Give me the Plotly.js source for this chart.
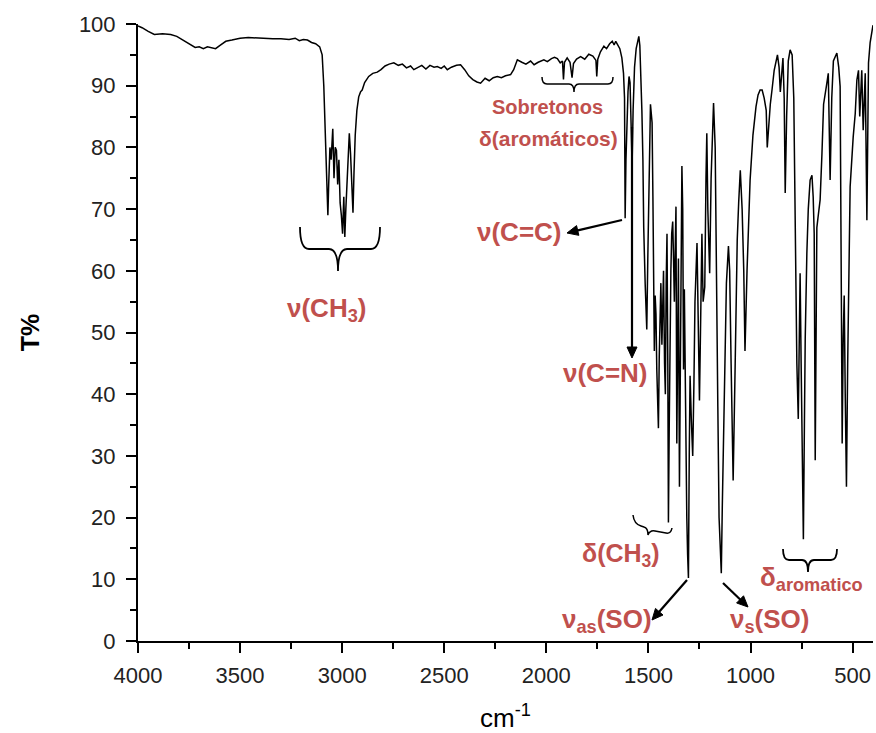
<!DOCTYPE html>
<html>
<head>
<meta charset="utf-8">
<script src="https://cdn.plot.ly/plotly-3.0.1.min.js"></script>
<style>
  html, body { margin: 0; padding: 0; background: #ffffff; }
  #chart { width: 876px; height: 733px; }
</style>
</head>
<body>
<div id="chart"></div>
<script>
// ---- Data ----
const wavenumber = [
  4000, 3980, 3950, 3920, 3880, 3840, 3810, 3780, 3750, 3720,
  3700, 3680, 3660, 3640, 3620, 3600, 3570, 3540, 3500, 3460,
  3420, 3380, 3340, 3300, 3260, 3230, 3210, 3190, 3170, 3150,
  3130, 3110,
  3098, 3090, 3082, 3076, 3070, 3066, 3060, 3054, 3046, 3040,
  3034, 3028, 3022, 3016, 3010, 3004, 2998, 2992, 2987, 2982,
  2976, 2971, 2965, 2959, 2953, 2947, 2942, 2936, 2928, 2919,
  2910, 2902, 2890, 2870, 2850,
  2828, 2810, 2790, 2770, 2747, 2725, 2705, 2685, 2665, 2649,
  2630, 2610, 2590, 2570, 2550, 2534, 2515, 2500, 2485, 2465,
  2440, 2420, 2400, 2380, 2360, 2340, 2322, 2300, 2280, 2260,
  2240, 2220, 2200, 2175, 2160, 2142, 2120, 2100, 2077, 2060,
  2040, 2012, 1995, 1975, 1960, 1946, 1932, 1921, 1916, 1911,
  1898, 1884, 1874, 1867, 1852, 1832, 1812, 1792, 1772, 1757,
  1753, 1748, 1735, 1718, 1705, 1690, 1677, 1668, 1660, 1650,
  1640,
  1630, 1622, 1617, 1614, 1610, 1605, 1600, 1595, 1590, 1585,
  1580, 1575, 1568, 1560, 1552, 1547, 1542, 1537, 1532, 1527,
  1523, 1516, 1508, 1503, 1498, 1494, 1490, 1486, 1482, 1478,
  1475, 1471, 1467, 1463, 1459, 1455, 1451, 1447, 1443, 1439,
  1434, 1430, 1426, 1421, 1417, 1413, 1409, 1405, 1402, 1398,
  1394, 1390, 1386, 1381, 1377, 1373, 1369, 1365, 1361, 1357,
  1353, 1348, 1344, 1340, 1336, 1332, 1328, 1324, 1320, 1316,
  1312, 1308, 1304,
  1300, 1296, 1290, 1283, 1277, 1272, 1262, 1257, 1250, 1245,
  1238, 1232, 1224, 1218, 1214, 1209, 1200, 1193, 1181, 1173,
  1166, 1160, 1154, 1148, 1143, 1138, 1133, 1126, 1118, 1108,
  1102, 1095, 1085, 1075, 1065, 1058, 1050, 1041, 1033, 1027,
  1017, 1002, 988, 973, 963, 953, 943, 933, 923, 918,
  911, 903, 894, 884, 868, 860, 854, 847, 841, 835,
  830, 823, 815, 806, 796, 788, 781, 773, 766, 761,
  757, 752, 747, 741, 736, 732, 724, 717, 708, 699,
  693, 688, 683, 678, 675, 668, 659, 650, 642, 626,
  619, 610, 602, 594, 577, 568, 561, 555, 551, 546,
  541, 536, 530, 524, 519, 512, 497, 487, 479, 471,
  465, 460, 455, 448, 438, 430, 422, 414, 404, 400
];
const transmittance = [
  99.7, 99.4, 98.8, 98.3, 98.4, 98.3, 98.0, 97.4, 96.8, 96.2,
  96.3, 96.0, 96.3, 96.1, 96.0, 96.5, 97.2, 97.4, 97.7, 97.8,
  97.7, 97.6, 97.6, 97.6, 97.5, 97.7, 97.3, 97.5, 97.4, 97.0,
  96.8, 96.3,
  95.0, 90.0, 80.0, 72.0, 69.0, 74.0, 80.0, 78.0, 83.0, 75.0,
  80.0, 79.5, 74.0, 78.0, 71.0, 69.0, 66.0, 72.0, 65.5, 70.0,
  74.0, 79.0, 82.3, 79.0, 73.0, 69.4, 76.0, 82.0, 86.0, 88.2,
  89.0, 89.3, 90.5, 91.5, 92.0,
  92.2, 92.6, 93.2, 93.5, 93.7, 93.3, 93.5, 92.9, 93.2, 92.6,
  92.9, 93.3, 92.7, 93.3, 93.0, 93.1, 92.8, 93.2, 92.6, 93.0,
  93.3, 93.4, 92.6, 91.6, 91.0, 90.6, 90.4, 91.2, 90.8, 91.3,
  91.5, 91.3, 91.6, 91.8, 92.6, 94.2, 93.8, 93.5, 94.0, 93.4,
  93.8, 94.2, 93.9, 94.4, 94.6, 94.4, 93.7, 94.0, 91.0, 93.8,
  94.5, 93.8, 91.3, 93.6, 94.3, 94.7, 94.3, 95.1, 94.8, 94.1,
  91.5, 94.3, 95.5, 96.4, 96.0, 96.8, 97.2, 96.6, 97.2, 96.6,
  96.0,
  94.5, 92.0, 88.0, 68.5, 78.0, 86.0, 89.0, 91.5, 90.5, 84.0,
  77.0, 86.0, 93.0, 96.0, 97.6, 98.0, 96.5, 92.0, 86.0, 78.0,
  67.0, 58.0, 50.5, 62.0, 75.0, 84.0, 87.0, 85.5, 84.0, 72.0,
  60.0, 47.0, 56.0, 53.0, 44.0, 38.0, 34.5, 46.0, 55.0, 58.0,
  48.0, 55.0, 60.0, 45.0, 40.0, 58.0, 66.0, 45.0, 19.2, 35.0,
  50.0, 60.0, 66.0, 68.0, 62.0, 55.0, 63.0, 70.4, 32.0, 55.0,
  62.0, 25.0, 45.0, 68.0, 77.0, 70.0, 44.0, 57.0, 43.0, 34.0,
  20.0, 14.0, 10.2,
  30.0, 43.0, 36.0, 30.0, 42.0, 55.0, 64.5, 50.0, 39.0, 50.0,
  66.0, 55.0, 57.4, 75.0, 82.3, 70.0, 59.6, 75.0, 87.2, 80.0,
  62.0, 38.0, 20.0, 13.0, 11.0, 22.0, 32.0, 46.0, 58.0, 64.0,
  60.0, 45.0, 26.0, 45.0, 65.0, 71.0, 76.3, 70.0, 60.0, 47.0,
  60.0, 74.7, 82.0, 86.6, 88.5, 89.3, 89.3, 88.0, 86.0, 80.0,
  84.0, 87.0, 89.5, 92.5, 95.0, 93.0, 89.0, 92.0, 94.5, 88.0,
  72.6, 85.0, 94.0, 95.8, 95.0, 88.0, 66.6, 45.0, 36.0, 50.0,
  59.6, 45.0, 32.0, 16.5, 35.0, 49.0, 62.8, 70.0, 74.7, 75.5,
  72.0, 66.0, 29.3, 50.0, 67.0, 69.0, 71.5, 79.0, 87.0, 90.4,
  92.0, 74.7, 88.0, 94.0, 95.3, 93.0, 89.9, 56.0, 32.0, 49.0,
  56.0, 40.0, 25.0, 45.0, 60.0, 73.6, 81.7, 85.5, 90.9, 92.5,
  85.0, 90.0, 92.5, 82.8, 92.0, 68.2, 93.7, 97.0, 99.6, 99.8
];
const xTickValues = [4000, 3500, 3000, 2500, 2000, 1500, 1000, 500];
const yTickValues = [0, 10, 20, 30, 40, 50, 60, 70, 80, 90, 100];

// ---- Geometry helpers for decorations (pixel -> data) ----
const W = 876, H = 733;
const M = {l: 138, r: 3, t: 24, b: 92};
const X0 = 4000, X1 = 400;
function px2x(px) { return X0 + (px - M.l) * (X1 - X0) / (W - M.l - M.r); }
function py2y(py) { return (H - M.b - py) * 100 / (H - M.t - M.b); }
function P(x, y) { return px2x(x).toFixed(2) + ',' + py2y(y).toFixed(3); }

const RED = '#C0504D';
const FONT = 'Arial, "Liberation Sans", sans-serif';

function brace(p1, p2, pc, pyEnd, pyMid, pyTip, r) {
  return 'M ' + P(p1, pyEnd) +
    ' Q ' + P(p1, pyMid) + ' ' + P(p1 + r, pyMid) +
    ' L ' + P(pc - r, pyMid) +
    ' Q ' + P(pc, pyMid) + ' ' + P(pc, pyTip) +
    ' Q ' + P(pc, pyMid) + ' ' + P(pc + r, pyMid) +
    ' L ' + P(p2 - r, pyMid) +
    ' Q ' + P(p2, pyMid) + ' ' + P(p2, pyEnd);
}
function rawPath(pts) {
  return pts.map(s => {
    const out = [s[0]];
    for (let i = 1; i < s.length; i += 2) out.push(P(s[i], s[i + 1]));
    return out.join(' ');
  }).join(' ');
}
// arrow made of a line and a filled head (pixel coords in, data coords out)
function arrowShapes(fx, fy, tx, ty) {
  const dx = tx - fx, dy = ty - fy, len = Math.hypot(dx, dy);
  const ux = dx / len, uy = dy / len, hl = 11, hw = 5;
  const bx = tx - ux * hl, by = ty - uy * hl;
  const lx = bx - uy * hw, ly = by + ux * hw, rx = bx + uy * hw, ry = by - ux * hw;
  return [
    {type: 'path', xref: 'x', yref: 'y', path: 'M ' + P(fx, fy) + ' L ' + P(bx + ux * 2, by + uy * 2),
     line: {color: '#000000', width: 2.2}},
    {type: 'path', xref: 'x', yref: 'y', path: 'M ' + P(tx, ty) + ' L ' + P(lx, ly) + ' L ' + P(rx, ry) + ' Z',
     fillcolor: '#000000', line: {color: '#000000', width: 1}}
  ];
}

const braceLine = {color: '#000000', width: 1.8};
const shapes = [
  {type: 'path', xref: 'x', yref: 'y', path: brace(300, 380, 338, 227, 249, 271, 9), line: braceLine},
  {type: 'path', xref: 'x', yref: 'y', path: brace(542, 613, 574, 77, 84, 92, 5), line: {color: '#000', width: 1.5}},
  {type: 'path', xref: 'x', yref: 'y', path: brace(783, 837, 808, 549, 560, 572, 6), line: braceLine},
  {type: 'path', xref: 'x', yref: 'y', line: {color: '#000', width: 1.5},
   path: rawPath([['M', 633, 515], ['Q', 634, 524, 641, 526], ['L', 644, 527], ['Q', 648, 528, 648, 535],
                  ['Q', 650, 530, 655, 531], ['L', 666, 533], ['Q', 671, 534, 672, 528]])}
].concat(
  arrowShapes(622, 220, 567, 233),
  arrowShapes(632, 127, 632, 358),
  arrowShapes(687, 580, 652, 620),
  arrowShapes(723, 583, 748, 607)
);

function lbl(px, py, text, size) {
  return {x: px2x(px), y: py2y(py), xref: 'x', yref: 'y', text: text, showarrow: false,
          font: {family: FONT, size: size || 26, color: RED},
          xanchor: 'center', yanchor: 'middle'};
}

const annotations = [
  lbl(326, 309, '<b>ν(CH<sub>3</sub>)</b>'),
  lbl(547, 107, '<b>Sobretonos</b>', 20),
  lbl(548, 138, '<b>δ(aromáticos)</b>', 21),
  lbl(519, 232, '<b>ν(C=C)</b>'),
  lbl(605, 373, '<b>ν(C=N)</b>'),
  lbl(621, 555, '<b>δ(CH<sub>3</sub>)</b>', 25),
  lbl(607, 620, '<b>ν<sub>as</sub>(SO)</b>'),
  lbl(769, 620, '<b>ν<sub>s</sub>(SO)</b>'),
  lbl(811, 578, '<b>δ<sub>aromatico</sub></b>', 26)
];

const trace = {
  x: wavenumber, y: transmittance, type: 'scatter', mode: 'lines',
  line: {color: '#000000', width: 1.5}, hoverinfo: 'skip'
};

const axisCommon = {
  showline: true, linecolor: '#000000', linewidth: 2,
  ticks: 'outside', ticklen: 10, tickwidth: 2, tickcolor: '#000000',
  showgrid: false, zeroline: false,
  tickfont: {family: FONT, size: 22, color: '#222222'}
};

const layout = {
  width: W, height: H,
  margin: M,
  paper_bgcolor: '#ffffff', plot_bgcolor: '#ffffff',
  showlegend: false,
  xaxis: Object.assign({}, axisCommon, {
    range: [X0, X1], autorange: false,
    tickmode: 'array', tickvals: xTickValues, ticktext: xTickValues.map(String),
    minor: {dtick: 250, tick0: 0, ticks: 'outside', ticklen: 6, tickwidth: 2, tickcolor: '#000000', showgrid: false},
    ticklabelstandoff: 4,
    title: {text: 'cm<sup>-1</sup>', font: {family: FONT, size: 26, color: '#000000'}, standoff: 28}
  }),
  yaxis: Object.assign({}, axisCommon, {
    range: [0, 100], autorange: false,
    tickmode: 'array', tickvals: yTickValues, ticktext: yTickValues.map(String),
    minor: {dtick: 5, tick0: 0, ticks: 'outside', ticklen: 6, tickwidth: 2, tickcolor: '#000000', showgrid: false},
    ticklabelstandoff: 6,
    title: {text: '<b>T%</b>', font: {family: FONT, size: 25, color: '#000000'}, standoff: 32}
  }),
  shapes: shapes,
  annotations: annotations
};

Plotly.newPlot('chart', [trace], layout, {staticPlot: true, displayModeBar: false});
</script>
</body>
</html>
